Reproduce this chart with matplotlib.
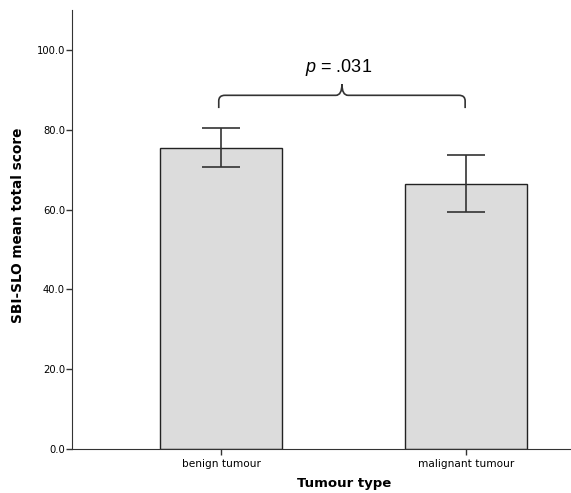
import numpy as np
import matplotlib.pyplot as plt
from matplotlib.path import Path
from matplotlib.patches import PathPatch

# Data
groups = ["benign tumour", "malignant tumour"]
means = [75.5, 66.4]
ci_low = [70.7, 59.3]
ci_high = [80.3, 73.7]

plt.rcParams["mathtext.fontset"] = "custom"
plt.rcParams["mathtext.it"] = "Liberation Sans:italic"
plt.rcParams["mathtext.rm"] = "Liberation Sans"

x = np.arange(len(groups))
err = [np.array(means) - np.array(ci_low), np.array(ci_high) - np.array(means)]

fig = plt.figure(figsize=(5.71, 4.93), dpi=100)
ax = fig.add_axes([0.126, 0.089, 0.872, 0.891])

ax.bar(x, means, width=0.5, color="#dcdcdc", edgecolor="#222222", linewidth=1.0)
ax.errorbar(x, means, yerr=err, fmt="none", ecolor="#333333", elinewidth=1.2,
            capsize=13.5, capthick=1.2)

ax.set_xlim(-0.61, 1.425)
ax.set_ylim(0, 110)
ax.set_yticks([0, 20, 40, 60, 80, 100])
ax.set_yticklabels([f"{v:.1f}" for v in [0, 20, 40, 60, 80, 100]])
ax.set_xticks(x)
ax.set_xticklabels(groups)
ax.tick_params(axis="y", labelsize=7.2, length=4, width=1, color="#333333", pad=1)
ax.tick_params(axis="x", labelsize=7.6, length=4, width=1, color="#333333", pad=3)
for s in ["top", "right"]:
    ax.spines[s].set_visible(False)
for s in ["left", "bottom"]:
    ax.spines[s].set_color("#333333")

ax.set_ylabel("SBI-SLO mean total score", fontsize=9.8, fontweight="bold")
ax.yaxis.set_label_coords(-0.094, 0.51)
ax.set_xlabel("Tumour type", fontsize=9.5, fontweight="bold")
ax.xaxis.set_label_coords(0.546, -0.064)

# significance bracket (curly brace)
y_line, y_end, y_tip = 88.6, 85.4, 91.4
x0, x1 = x[0] - 0.01, x[1] - 0.003
xm = (x0 + x1) / 2
dx = 0.025
dy = 1.4
verts = [
    (x0, y_end), (x0, y_line - dy),
    (x0, y_line), (x0 + dx, y_line),
    (xm - dx, y_line),
    (xm, y_line), (xm, y_tip),
    (xm, y_line), (xm + dx, y_line),
    (x1 - dx, y_line),
    (x1, y_line), (x1, y_line - dy),
    (x1, y_end),
]
codes = [Path.MOVETO, Path.LINETO,
         Path.CURVE3, Path.CURVE3,
         Path.LINETO,
         Path.CURVE3, Path.CURVE3,
         Path.CURVE3, Path.CURVE3,
         Path.LINETO,
         Path.CURVE3, Path.CURVE3,
         Path.LINETO]
ax.add_patch(PathPatch(Path(verts, codes), facecolor="none",
                       edgecolor="#333333", linewidth=1.2))
ax.text(xm - 0.015, 95.6, r"$\mathit{p}$ = .031", ha="center", va="center",
        fontsize=13, family="Liberation Sans")

fig.savefig("out.png", dpi=100)
